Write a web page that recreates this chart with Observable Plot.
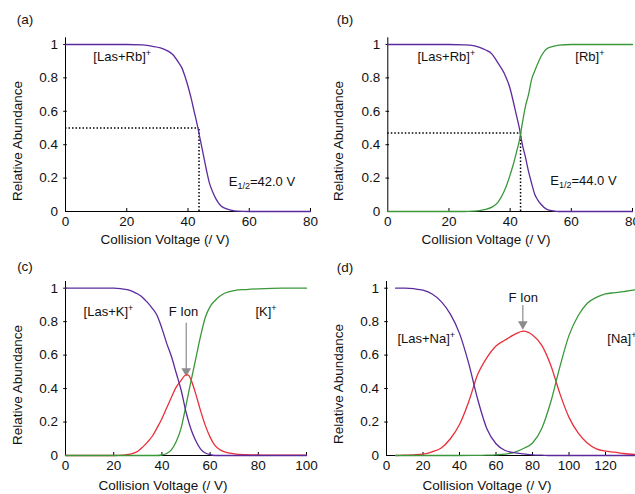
<!DOCTYPE html>
<html><head><meta charset="utf-8">
<script src="https://cdn.jsdelivr.net/npm/d3@7"></script>
<script src="https://cdn.jsdelivr.net/npm/@observablehq/plot@0.6"></script>
<style>
body{margin:0;background:#fff}
#wrap{position:relative;width:635px;height:494px;overflow:hidden;font-family:"Liberation Sans",Arial,sans-serif;color:#111}
.panel{position:absolute}
.lbl{position:absolute;font-size:13.5px;line-height:16px;white-space:nowrap;transform:translate(-50%,-50%)}
.ytitle{transform:translate(-50%,-50%) rotate(-90deg)}
</style></head>
<body><div id="wrap"></div>
<script>
// ---------- data ----------
const yTicks = [0, 0.2, 0.4, 0.6, 0.8, 1];
const xTicksA = [0, 20, 40, 60, 80];
const xTicksC = [0, 20, 40, 60, 80, 100];
const xTicksD = [0, 20, 40, 60, 80, 100, 120];

// (a) [Las+Rb]+
const aX = [0,10,20,25,28,31,33,35,37,38,39,40,41,42,43,44,45,46,47,48,49,50,51,52,54,56,60,70,80];
const aComplex = [1,1,1,0.998,0.99,0.98,0.965,0.94,0.89,0.86,0.81,0.75,0.68,0.6,0.52,0.43,0.34,0.25,0.17,0.12,0.08,0.05,0.03,0.02,0.008,0.002,0,0,0];

// (b) [Las+Rb]+ and [Rb]+
const bX1 = [0,10,20,25,28,30,32,34,36,38,40,41,42,43,44,45,46,47,48,49,50,52,54,56,60,70,80];
const bComplex = [1,1,1,0.998,0.993,0.983,0.967,0.944,0.89,0.83,0.735,0.66,0.58,0.5,0.4,0.325,0.24,0.17,0.105,0.07,0.045,0.013,0.004,0,0,0,0];
const bX2 = [0,10,20,25,28,30,32,34,36,38,39,40,41,42,43,44,45,46,47,48,49,50,52,54,56,60,70,80];
const bMetal = [0,0,0,0,0.002,0.005,0.012,0.026,0.055,0.12,0.165,0.22,0.28,0.35,0.425,0.53,0.63,0.7,0.79,0.84,0.885,0.925,0.975,0.988,0.996,1,1,1];

// (c) [Las+K]+, F Ion, [K]+
const cX1 = [0,5,10,15,20,23,26,28,30,32,34,36,38,40,42,44,46,48,50,52,54,56,58,60,62,65,70,80,90,100];
const cComplex = [1,1,1,1,1,0.997,0.99,0.98,0.965,0.945,0.915,0.88,0.837,0.76,0.67,0.59,0.49,0.39,0.26,0.16,0.09,0.04,0.015,0.005,0,0,0,0,0,0];
const cX2 = [0,5,10,15,20,24,26,28,30,32,34,36,38,40,42,44,46,48,49,50,51,52,54,56,58,60,62,64,66,70,75,80,90,100];
const cFrag = [0,0,0,0,0,0.002,0.006,0.012,0.025,0.05,0.08,0.115,0.165,0.22,0.285,0.35,0.41,0.45,0.47,0.482,0.48,0.455,0.37,0.27,0.18,0.11,0.06,0.035,0.022,0.01,0.005,0.003,0.002,0.002];
const cX3 = [0,10,20,30,38,40,42,44,46,48,50,52,54,56,58,60,62,64,66,70,75,80,90,100];
const cMetal = [0,0,0,0,0,0.003,0.012,0.035,0.085,0.165,0.3,0.44,0.575,0.71,0.825,0.89,0.925,0.952,0.97,0.986,0.992,0.996,1,1];

// (d) [Las+Na]+, F Ion, [Na]+
const dX1 = [5,10,15,20,25,30,35,40,45,50,55,60,65,70,75,80,85,90,100,110,120,130,136];
const dComplex = [1,1,0.997,0.988,0.965,0.92,0.845,0.73,0.552,0.335,0.16,0.07,0.03,0.017,0.01,0.004,0.002,0,0,0,0,0,0];
const dX2 = [5,10,15,20,25,30,35,40,45,50,55,60,65,70,75,80,85,90,95,100,105,110,115,120,125,130,136];
const dFrag = [0,0.002,0.004,0.008,0.022,0.045,0.1,0.185,0.32,0.485,0.585,0.655,0.69,0.722,0.743,0.72,0.66,0.54,0.37,0.228,0.135,0.075,0.04,0.026,0.02,0.012,0.006];
const dX3 = [5,10,20,30,40,50,55,60,65,70,75,80,85,90,95,100,105,110,115,120,125,130,136];
const dMetal = [0,0,0,0,0,0.001,0.002,0.004,0.008,0.018,0.042,0.075,0.16,0.32,0.53,0.718,0.835,0.91,0.945,0.966,0.973,0.98,0.99];

// ---------- drawing ----------
const PURPLE = "#5b2b9e", GREEN = "#3a983a", RED = "#e8303a";
const zip = (xs, ys) => xs.map((x, i) => ({x, y: ys[i]}));
const wrap = document.getElementById("wrap");

function richText(svg) {
  d3.select(svg).selectAll("text").each(function () {
    const s = this.textContent;
    if (!/[\^_]\{/.test(s)) return;
    const parts = s.split(/(\^\{[^}]*\}|_\{[^}]*\})/).filter(p => p.length);
    const el = d3.select(this);
    el.text(null);
    let shift = 0;
    for (const p of parts) {
      if (p.startsWith("^{")) {
        el.append("tspan").attr("dy", -5 - shift).attr("font-size", 9).text(p.slice(2, -1));
        shift = -5;
      } else if (p.startsWith("_{")) {
        el.append("tspan").attr("dy", 3 - shift).attr("font-size", 9).text(p.slice(2, -1));
        shift = 3;
      } else {
        el.append("tspan").attr("dy", -shift).text(p);
        shift = 0;
      }
    }
  });
}

function panel({left, top, width, height, mL, mR, mT, mB, xDomain, xTicks, series, extra}) {
  const xmax = xDomain[1];
  const pxPerX = (width - mL - mR) / (xDomain[1] - xDomain[0]);
  const pxPerY = (height - mT - mB) / 1.04;
  const k = 1.8 / pxPerX;
  const t = 3 / pxPerY;
  const marks = [
    Plot.axisX({ticks: xTicks, tickSize: 0, tickPadding: 5, label: null}),
    Plot.axisY({ticks: yTicks, tickSize: 0, tickPadding: 7.5, tickFormat: d3.format("~g"), label: null}),
    Plot.ruleY([0], {x1: 0, x2: xmax, stroke: "#000"}),
    Plot.ruleX([0], {y1: 0, y2: 1.04, stroke: "#000"}),
    Plot.ruleX(xTicks.filter(d => d > 0), {y1: 0, y2: t, stroke: "#000"}),
    Plot.ruleY(yTicks.filter(d => d > 0), {x1: -k, x2: k, stroke: "#000"}),
    ...(extra || []),
    ...series.map(s => Plot.line(s.data, {x: "x", y: "y", stroke: s.color, strokeWidth: 1.3, curve: "monotone-x"}))
  ];
  const svg = Plot.plot({
    width, height, marginLeft: mL, marginRight: mR, marginTop: mT, marginBottom: mB,
    x: {domain: xDomain}, y: {domain: [0, 1.04]},
    style: {fontFamily: "'Liberation Sans', Arial, sans-serif", fontSize: "13.5px", color: "#111", background: "transparent", overflow: "visible"},
    marks
  });
  svg.classList.add("panel");
  svg.style.left = left + "px";
  svg.style.top = top + "px";
  richText(svg);
  wrap.appendChild(svg);
}

const txt = (x, y, text) => Plot.text([{x, y, text}], {x: "x", y: "y", text: "text", textAnchor: "start", fontSize: 13, fill: "#111"});
const arrow = (x, y1, y2) => [
  Plot.ruleX([x], {y1, y2, stroke: "#8c8c8c", strokeWidth: 1.2}),
  Plot.dot([{x, y: y2}], {x: "x", y: "y", symbol: "triangle", rotate: 180, r: 3.6, fill: "#8c8c8c", stroke: "none"})
];

// (a)
panel({left: 0, top: 0, width: 318, height: 250, mL: 65, mR: 8, mT: 37.3, mB: 39,
  xDomain: [0, 80], xTicks: xTicksA,
  extra: [
    Plot.ruleY([0.5], {x1: 0, x2: 43.6, stroke: "#000", strokeWidth: 1.5, strokeDasharray: "1.5,2"}),
    Plot.ruleX([43.6], {y1: 0, y2: 0.5, stroke: "#000", strokeWidth: 1.5, strokeDasharray: "1.5,2"}),
    txt(9.1, 0.925, "[Las+Rb]^{+}"),
    txt(53.3, 0.175, "E_{1/2}=42.0 V")
  ],
  series: [{data: zip(aX, aComplex), color: PURPLE}]
});

// (b)
panel({left: 318, top: 0, width: 317, height: 250, mL: 69.3, mR: 3, mT: 37.3, mB: 39,
  xDomain: [0, 80], xTicks: xTicksA,
  extra: [
    Plot.ruleY([0.47], {x1: 0, x2: 43.4, stroke: "#000", strokeWidth: 1.5, strokeDasharray: "1.5,2"}),
    Plot.ruleX([43.4], {y1: 0, y2: 0.47, stroke: "#000", strokeWidth: 1.5, strokeDasharray: "1.5,2"}),
    txt(9.7, 0.925, "[Las+Rb]^{+}"),
    txt(61.3, 0.925, "[Rb]^{+}"),
    txt(53.1, 0.185, "E_{1/2}=44.0 V")
  ],
  series: [{data: zip(bX1, bComplex), color: PURPLE}, {data: zip(bX2, bMetal), color: GREEN}]
});

// (c)
panel({left: 0, top: 250, width: 318, height: 244, mL: 65, mR: 12, mT: 31, mB: 39,
  xDomain: [0, 100], xTicks: xTicksC,
  extra: [
    txt(7.5, 0.86, "[Las+K]^{+}"),
    txt(42.8, 0.86, "F Ion"),
    txt(78.8, 0.86, "[K]^{+}"),
    ...arrow(50.1, 0.79, 0.505)
  ],
  series: [{data: zip(cX2, cFrag), color: RED}, {data: zip(cX3, cMetal), color: GREEN}, {data: zip(cX1, cComplex), color: PURPLE}]
});

// (d)
panel({left: 318, top: 250, width: 324, height: 244, mL: 68, mR: 0.5, mT: 31, mB: 39,
  xDomain: [0, 140], xTicks: xTicksD,
  extra: [
    txt(6.0, 0.70, "[Las+Na]^{+}"),
    txt(66.8, 0.945, "F Ion"),
    txt(121, 0.70, "[Na]^{+}"),
    ...arrow(74.7, 0.897, 0.785)
  ],
  series: [{data: zip(dX2, dFrag), color: RED}, {data: zip(dX3, dMetal), color: GREEN}, {data: zip(dX1, dComplex), color: PURPLE}]
});

// titles
function label(text, x, y, cls) {
  const d = document.createElement("div");
  d.className = "lbl" + (cls ? " " + cls : "");
  d.style.left = x + "px"; d.style.top = y + "px";
  d.textContent = text;
  wrap.appendChild(d);
}
label("(a)", 25, 20); label("(b)", 345, 20); label("(c)", 25, 267); label("(d)", 345, 268);
label("Relative Abundance", 17.5, 141, "ytitle");
label("Relative Abundance", 339, 141, "ytitle");
label("Relative Abundance", 17.5, 385, "ytitle");
label("Relative Abundance", 339, 384, "ytitle");
label("Collision Voltage (/ V)", 165, 240);
label("Collision Voltage (/ V)", 486, 240);
label("Collision Voltage (/ V)", 163, 485.5);
label("Collision Voltage (/ V)", 487, 485.5);
</script></body></html>
